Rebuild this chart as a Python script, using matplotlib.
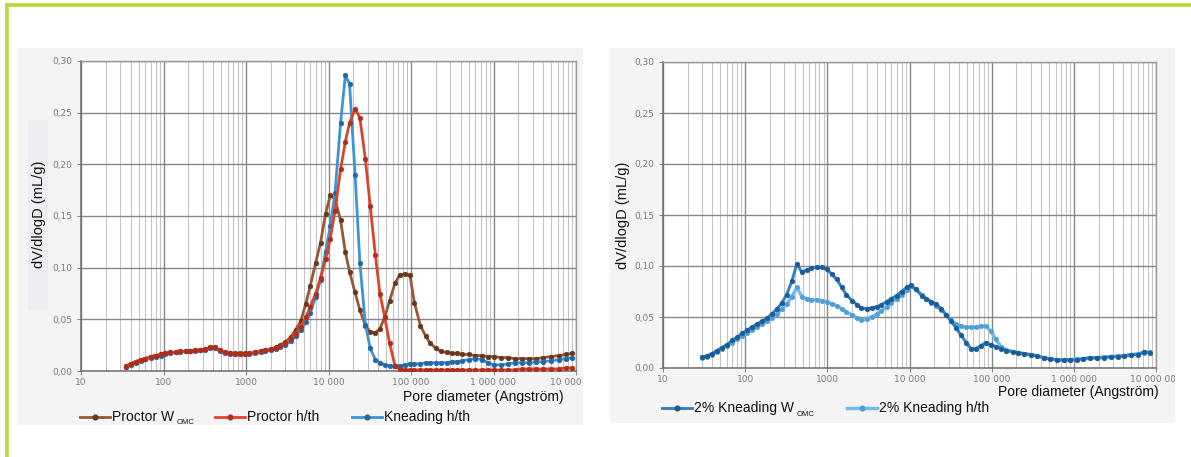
import matplotlib
matplotlib.use("Agg")
import matplotlib.pyplot as plt
from matplotlib.lines import Line2D
from matplotlib.patches import Rectangle
from matplotlib.ticker import FixedLocator, FixedFormatter, NullFormatter
from matplotlib.transforms import Bbox, TransformedBbox

# ---------------- data ----------------
# Pore diameters (Angstrom) for the compaction comparison
left_diam = [
    35, 40, 46, 53, 60, 70, 80, 92, 105, 120,
    140, 160, 185, 210, 240, 280, 320, 370, 420, 480,
    550, 640, 730, 840, 970, 1100, 1300, 1500, 1700, 2000,
    2300, 2600, 3000, 3500, 4000, 4600, 5300, 6000, 7000, 8000,
    9200, 10500, 12000, 14000, 16000, 18000, 21000, 24000, 28000, 32000,
    37000, 42000, 48000, 55000, 64000, 73000, 84000, 97000, 110000, 130000,
    150000, 170000, 200000, 230000, 270000, 310000, 360000, 420000, 500000, 600000,
    720000, 860000, 1000000, 1250000, 1500000, 1800000, 2200000, 2700000, 3300000, 4000000,
    5000000, 6200000, 7600000, 9000000,
]
proctor_womc = [
    0.005, 0.007, 0.009, 0.011, 0.012, 0.014, 0.015, 0.016, 0.017, 0.018,
    0.018, 0.019, 0.019, 0.019, 0.020, 0.020, 0.021, 0.023, 0.023, 0.020,
    0.018, 0.017, 0.017, 0.017, 0.017, 0.017, 0.018, 0.019, 0.020, 0.021,
    0.023, 0.025, 0.028, 0.033, 0.040, 0.048, 0.065, 0.082, 0.105, 0.124,
    0.152, 0.170, 0.166, 0.146, 0.115, 0.096, 0.076, 0.059, 0.044, 0.038,
    0.037, 0.041, 0.052, 0.068, 0.085, 0.093, 0.094, 0.093, 0.066, 0.044,
    0.034, 0.027, 0.022, 0.019, 0.018, 0.017, 0.017, 0.016, 0.016, 0.015,
    0.015, 0.014, 0.014, 0.013, 0.013, 0.012, 0.012, 0.012, 0.012, 0.013,
    0.014, 0.015, 0.016, 0.017,
]
proctor_hth = [
    0.004, 0.007, 0.009, 0.011, 0.012, 0.014, 0.015, 0.016, 0.017, 0.018,
    0.018, 0.019, 0.019, 0.019, 0.020, 0.020, 0.021, 0.023, 0.023, 0.020,
    0.018, 0.017, 0.016, 0.016, 0.016, 0.017, 0.018, 0.019, 0.020, 0.021,
    0.022, 0.024, 0.027, 0.031, 0.036, 0.043, 0.052, 0.062, 0.075, 0.090,
    0.108, 0.128, 0.155, 0.195, 0.222, 0.240, 0.254, 0.245, 0.205, 0.160,
    0.112, 0.075, 0.052, 0.027, 0.005, 0.002, 0.001, 0.001, 0.001, 0.001,
    0.001, 0.001, 0.001, 0.001, 0.001, 0.001, 0.001, 0.001, 0.001, 0.001,
    0.001, 0.001, 0.001, 0.001, 0.001, 0.001, 0.002, 0.002, 0.002, 0.002,
    0.002, 0.002, 0.003, 0.003,
]
kneading_hth = [
    0.004, 0.006, 0.008, 0.010, 0.012, 0.013, 0.014, 0.015, 0.016, 0.017,
    0.018, 0.018, 0.019, 0.019, 0.019, 0.020, 0.020, 0.022, 0.022, 0.019,
    0.017, 0.016, 0.016, 0.016, 0.016, 0.016, 0.017, 0.018, 0.019, 0.020,
    0.021, 0.023, 0.025, 0.029, 0.034, 0.040, 0.047, 0.056, 0.072, 0.088,
    0.115, 0.140, 0.172, 0.240, 0.286, 0.278, 0.190, 0.105, 0.045, 0.022,
    0.011, 0.008, 0.006, 0.005, 0.005, 0.005, 0.006, 0.007, 0.007, 0.007,
    0.008, 0.008, 0.008, 0.008, 0.008, 0.009, 0.009, 0.010, 0.011, 0.012,
    0.011, 0.008, 0.006, 0.006, 0.007, 0.008, 0.008, 0.008, 0.009, 0.009,
    0.010, 0.011, 0.012, 0.013,
]

# Pore diameters (Angstrom) for the 2 % treated samples
right_diam = [
    30, 34, 39, 45, 52, 60, 69, 79, 91, 105,
    120, 138, 160, 185, 210, 245, 280, 320, 370, 425,
    490, 560, 640, 740, 850, 980, 1130, 1300, 1500, 1700,
    2000, 2300, 2600, 3000, 3450, 4000, 4550, 5250, 6000, 6950,
    8000, 9200, 10500, 12000, 14000, 16000, 18500, 21000, 24500, 28000,
    32000, 37000, 42500, 49000, 56000, 64000, 74000, 85000, 98000, 112000,
    130000, 150000, 180000, 210000, 250000, 300000, 360000, 430000, 520000, 620000,
    750000, 900000, 1080000, 1300000, 1560000, 1900000, 2300000, 2800000, 3400000, 4100000,
    5000000, 6000000, 7200000, 8500000,
]
kneading2_womc = [
    0.011, 0.012, 0.014, 0.017, 0.020, 0.023, 0.027, 0.030, 0.034, 0.037,
    0.040, 0.043, 0.046, 0.049, 0.053, 0.058, 0.064, 0.072, 0.085, 0.102,
    0.094, 0.096, 0.098, 0.099, 0.099, 0.097, 0.092, 0.087, 0.079, 0.072,
    0.066, 0.062, 0.059, 0.058, 0.059, 0.060, 0.062, 0.065, 0.068, 0.071,
    0.075, 0.079, 0.081, 0.077, 0.071, 0.068, 0.065, 0.063, 0.058, 0.052,
    0.046, 0.039, 0.032, 0.025, 0.019, 0.019, 0.022, 0.025, 0.023, 0.021,
    0.019, 0.017, 0.016, 0.015, 0.014, 0.013, 0.012, 0.010, 0.009, 0.008,
    0.008, 0.008, 0.008, 0.009, 0.010, 0.010, 0.010, 0.011, 0.011, 0.012,
    0.013, 0.013, 0.016, 0.015,
]
kneading2_hth = [
    0.010, 0.011, 0.013, 0.016, 0.019, 0.022, 0.025, 0.028, 0.031, 0.034,
    0.037, 0.040, 0.043, 0.046, 0.049, 0.053, 0.058, 0.063, 0.070, 0.079,
    0.070, 0.068, 0.067, 0.067, 0.066, 0.065, 0.063, 0.061, 0.058, 0.055,
    0.052, 0.049, 0.047, 0.048, 0.050, 0.053, 0.056, 0.060, 0.064, 0.068,
    0.072, 0.076, 0.080, 0.077, 0.072, 0.068, 0.064, 0.061, 0.057, 0.052,
    0.047, 0.043, 0.041, 0.040, 0.040, 0.040, 0.041, 0.041, 0.036, 0.028,
    0.021, 0.018, 0.016, 0.015, 0.014, 0.013, 0.012, 0.010, 0.009, 0.008,
    0.008, 0.008, 0.009, 0.009, 0.010, 0.010, 0.011, 0.011, 0.012, 0.012,
    0.013, 0.014, 0.015, 0.016,
]

x_ticks = [10, 100, 1000, 10000, 100000, 1000000, 10000000]
x_tick_labels = ["10", "100", "1000", "10 000", "100 000", "1 000 000", "10 000 000"]
y_ticks = [0.00, 0.05, 0.10, 0.15, 0.20, 0.25, 0.30]
y_tick_labels = ["0,00", "0,05", "0,10", "0,15", "0,20", "0,25", "0,30"]

y_label = "dV/dlogD (mL/g)"
x_label = "Pore diameter (Angström)"

# ---------------- figure ----------------
W, H = 1191, 457
fig = plt.figure(figsize=(W / 100, H / 100), dpi=100)
fig.patch.set_facecolor("white")
FONT = "Liberation Sans"


def fx(px):
    return px / W


def fy(py):
    return 1 - py / H


def frect(x0, y0, x1, y1, **kw):
    r = Rectangle((fx(x0), fy(y1)), fx(x1) - fx(x0), fy(y0) - fy(y1),
                  transform=fig.transFigure, **kw)
    fig.add_artist(r)
    return r


# green frame
green = "#bfd43c"
fig.add_artist(Line2D([fx(7), 1.0], [fy(5), fy(5)], color=green, lw=2.6,
                      transform=fig.transFigure))
fig.add_artist(Line2D([fx(7), fx(7)], [fy(5), 0.0], color=green, lw=2.6,
                      transform=fig.transFigure))

# panel backgrounds
left_panel = (18, 48, 583, 425)
right_panel = (610, 48, 1175, 423)
frect(*left_panel, facecolor="#f4f4f4", edgecolor="none", zorder=0)
frect(*right_panel, facecolor="#f4f4f4", edgecolor="none", zorder=0)
frect(28, 120, 48, 310, facecolor="#eceef1", edgecolor="none", zorder=0.5)


def style_axes(ax, panel):
    ax.set_facecolor("white")
    ax.set_xscale("log")
    ax.set_xlim(10, 1e7)
    ax.set_ylim(0, 0.30)
    ax.xaxis.set_major_locator(FixedLocator(x_ticks))
    ax.xaxis.set_major_formatter(FixedFormatter(x_tick_labels))
    minors = [m * 10 ** e for e in range(1, 7) for m in range(2, 10)]
    ax.xaxis.set_minor_locator(FixedLocator(minors))
    ax.xaxis.set_minor_formatter(NullFormatter())
    ax.yaxis.set_major_locator(FixedLocator(y_ticks))
    ax.yaxis.set_major_formatter(FixedFormatter(y_tick_labels))
    ax.grid(which="major", color="#878787", lw=1.0, zorder=1)
    ax.grid(which="minor", axis="x", color="#c4c4c4", lw=0.8, zorder=1)
    ax.set_axisbelow(True)
    for side in ("top", "right"):
        ax.spines[side].set_color("#9a9a9a")
        ax.spines[side].set_linewidth(1.0)
    for side in ("left", "bottom"):
        ax.spines[side].set_color("#6e6e6e")
        ax.spines[side].set_linewidth(1.1)
    ax.tick_params(axis="both", which="major", labelsize=6.5, labelcolor="#7a7a7a",
                   color="#8c8c8c", length=3, width=0.8)
    ax.tick_params(axis="x", which="major", pad=2)
    ax.tick_params(axis="x", which="minor", length=0)
    clip = TransformedBbox(Bbox([[fx(panel[0]), fy(panel[3])],
                                 [fx(panel[2]), fy(panel[1])]]), fig.transFigure)
    for lbl in ax.get_xticklabels() + ax.get_yticklabels():
        lbl.set_clip_box(clip)
        lbl.set_clip_on(True)


def axes_at(x0, y0, x1, y1):
    return fig.add_axes([fx(x0), fy(y1), fx(x1) - fx(x0), fy(y0) - fy(y1)])


# series styles: (line colour, marker colour)
c_brown = ("#96583a", "#64381f")
c_red = ("#da4529", "#b02d1b")
c_blue = ("#3d94d5", "#2467a3")
c_dark = ("#2f82c6", "#1d5b94")
c_light = ("#74bdea", "#4d9fd6")


def draw(ax, x, y, col, lw=2.0, ms=3.4, z=3):
    ax.plot(x, y, color=col[0], lw=lw, marker="o", ms=ms, mfc=col[1], mec=col[1],
            mew=0.4, zorder=z)


# ---------------- left panel ----------------
axL = axes_at(81, 61, 576, 371)
style_axes(axL, left_panel)
draw(axL, left_diam, proctor_womc, c_brown, z=3)
draw(axL, left_diam, kneading_hth, c_blue, z=4)
draw(axL, left_diam, proctor_hth, c_red, z=5)

# ---------------- right panel ----------------
axR = axes_at(663, 62, 1156, 368)
style_axes(axR, right_panel)
draw(axR, right_diam, kneading2_hth, c_light, lw=2.5, ms=3.2, z=3)
draw(axR, right_diam, kneading2_womc, c_dark, lw=2.1, ms=3.4, z=4)

# ---------------- axis titles ----------------
fig.text(fx(39), fy(214), y_label, rotation=90, ha="center", va="center",
         fontsize=10.5, family=FONT, color="#111111")
fig.text(fx(623), fy(215), y_label, rotation=90, ha="center", va="center",
         fontsize=10.5, family=FONT, color="#111111")
fig.text(fx(403), fy(397), x_label, ha="left", va="center",
         fontsize=10, family=FONT, color="#111111")
fig.text(fx(998), fy(392), x_label, ha="left", va="center",
         fontsize=10, family=FONT, color="#111111")

# ---------------- legends ----------------
renderer = fig.canvas.get_renderer()


def legend_item(x_line, y, col, label, sub=None, lw=2.0):
    fig.add_artist(Line2D([fx(x_line), fx(x_line + 30)], [fy(y), fy(y)],
                          color=col[0], lw=lw, transform=fig.transFigure))
    fig.add_artist(Line2D([fx(x_line + 15)], [fy(y)], color=col[1], marker="o",
                          ms=3.4, lw=0, transform=fig.transFigure))
    t = fig.text(fx(x_line + 32), fy(y), label, ha="left", va="center",
                 fontsize=10, family=FONT, color="#111111")
    if sub:
        bb = t.get_window_extent(renderer)
        fig.text(bb.x1 / W + fx(3), fy(y + 6), sub, ha="left", va="center",
                 fontsize=5.5, family=FONT, color="#111111")


legend_item(80, 417, c_brown, "Proctor W", "OMC")
legend_item(215, 417, c_red, "Proctor h/th")
legend_item(352, 417, c_blue, "Kneading h/th")
legend_item(662, 408, c_dark, "2% Kneading W", "OMC", lw=2.1)
legend_item(847, 408, c_light, "2% Kneading h/th", lw=2.5)

fig.savefig("out.png", dpi=100, facecolor="white")
